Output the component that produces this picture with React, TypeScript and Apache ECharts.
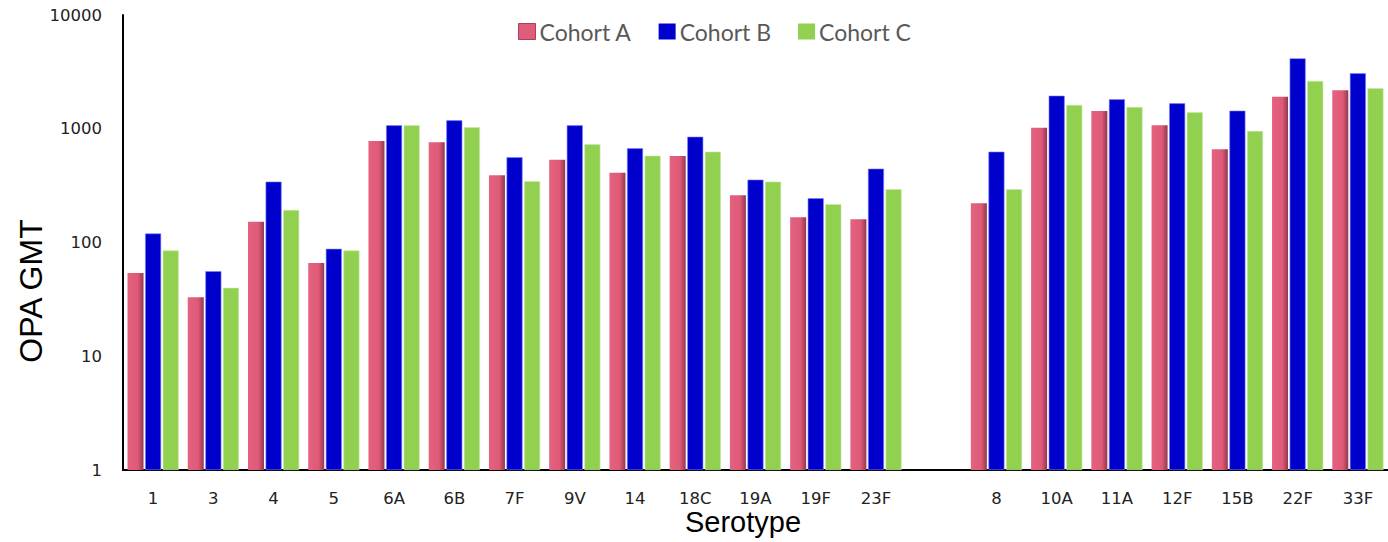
import React, { useEffect, useRef } from "react";
import * as echarts from "echarts";

const categories = ["1", "3", "4", "5", "6A", "6B", "7F", "9V", "14", "18C", "19A", "19F", "23F", "", "8", "10A", "11A", "12F", "15B", "22F", "33F"];
const cohortA = [54, 33, 152, 66, 780, 760, 390, 535, 411, 576, 260, 167, 160, null, 221, 1021, 1432, 1072, 660, 1913, 2178];
const cohortB = [120, 56, 343, 88, 1072, 1186, 561, 1072, 673, 851, 357, 245, 446, null, 629, 1953, 1815, 1674, 1442, 4160, 3074];
const cohortC = [85, 40, 193, 85, 1072, 1030, 345, 730, 580, 629, 343, 217, 294, null, 294, 1618, 1553, 1395, 955, 2630, 2268];
const seriesNames = ["Cohort A", "Cohort B", "Cohort C"];

export default function App() {
  const ref = useRef<HTMLDivElement>(null);
  useEffect(() => {
    document.body.style.margin = "0";
    const chart = echarts.init(ref.current!, null, { renderer: "svg" });
    const pink = new echarts.graphic.LinearGradient(0, 0, 1, 0, [
      { offset: 0, color: "#E4627F" },
      { offset: 0.65, color: "#DE5A78" },
      { offset: 1, color: "#93374C" },
    ]);
    const toData = (arr: (number | null)[]) => arr.map((v) => (v == null ? "-" : v));
    chart.setOption({
      animation: false,
      backgroundColor: "#ffffff",
      legend: {
        top: 20,
        left: 518,
        padding: 0,
        icon: "rect",
        itemWidth: 17,
        itemHeight: 16,
        itemGap: 27,
        textStyle: { fontFamily: "Lato", fontSize: 23, color: "#595959", padding: [0, 0, 0, -1] },
        data: [
          { name: seriesNames[0], itemStyle: { color: "#E05C7B", borderColor: "#A8405A", borderWidth: 1 } },
          { name: seriesNames[1], itemStyle: { color: "#0000CC", borderWidth: 0 } },
          { name: seriesNames[2], itemStyle: { color: "#92D050", borderWidth: 0 } },
        ],
      },
      grid: { left: 123, top: 15, width: 1270.5, bottom: 72, containLabel: false },
      xAxis: {
        type: "category",
        data: categories,
        axisLine: { lineStyle: { color: "#000", width: 2 } },
        axisTick: { show: false },
        axisLabel: { fontFamily: "DejaVu Sans", fontSize: 16.5, color: "#222", margin: 20, interval: 0 },
      },
      yAxis: {
        type: "log",
        logBase: 10,
        min: 1,
        max: 10000,
        axisLine: { show: true, lineStyle: { color: "#000", width: 2 } },
        axisTick: { show: false },
        splitLine: { show: false },
        axisLabel: { fontFamily: "DejaVu Sans", fontSize: 16.5, color: "#222", margin: 21, formatter: (v: number) => String(Math.round(v)) },
      },
      graphic: [
        {
          type: "text",
          x: 31,
          y: 291,
          rotation: Math.PI / 2,
          style: { text: "OPA GMT", font: "32px 'Liberation Sans'", fill: "#000", textAlign: "center", textVerticalAlign: "middle" },
        },
        {
          type: "text",
          x: 743,
          y: 522,
          style: { text: "Serotype", font: "29px 'Liberation Sans'", fill: "#000", textAlign: "center", textVerticalAlign: "middle" },
        },
      ],
      series: [
        { name: seriesNames[0], type: "bar", barWidth: 16, barGap: "10%", data: toData(cohortA), itemStyle: { color: pink } },
        { name: seriesNames[1], type: "bar", barWidth: 16, barGap: "10%", data: toData(cohortB), itemStyle: { color: "#0000CC", borderColor: "#7F7FFF", borderWidth: 0.6 } },
        { name: seriesNames[2], type: "bar", barWidth: 16, barGap: "10%", data: toData(cohortC), itemStyle: { color: "#92D050", borderColor: "#C8E8A8", borderWidth: 0.6 } },
      ],
    });
    return () => chart.dispose();
  }, []);
  return <div ref={ref} style={{ width: 1388, height: 542 }} />;
}
